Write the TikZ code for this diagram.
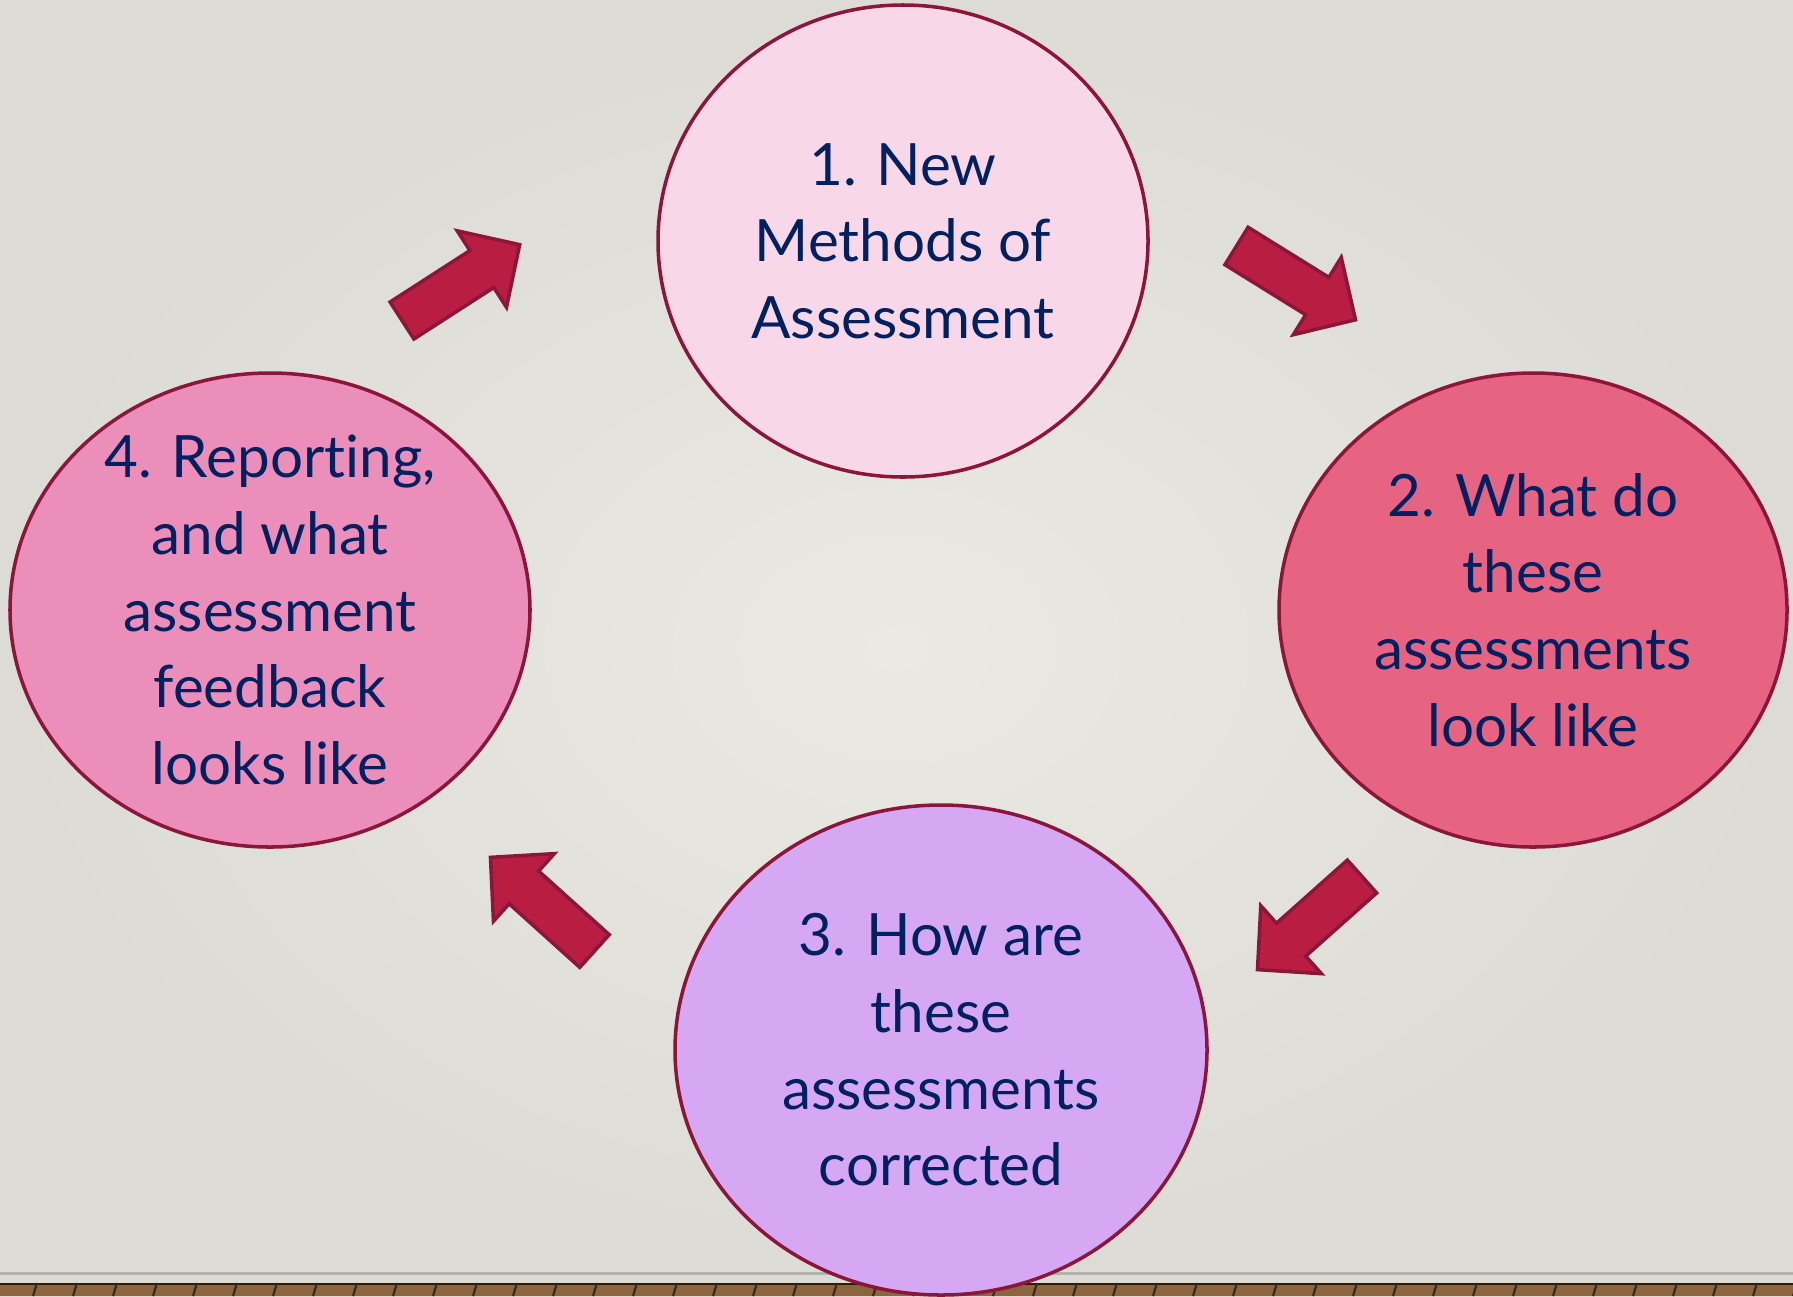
\documentclass[tikz,border=0pt]{standalone}
\usepackage{fontspec}
\setmainfont{Lato}[Ligatures=NoCommon]
\usetikzlibrary{shapes.geometric}

\definecolor{wallin}{RGB}{235,233,228}
\definecolor{wallout}{RGB}{221,219,213}
\definecolor{rimred}{RGB}{140,22,58}
\definecolor{arrowred}{RGB}{185,30,66}
\definecolor{textnavy}{RGB}{0,32,96}
\definecolor{stageone}{RGB}{248,216,232}
\definecolor{stagetwo}{RGB}{230,100,130}
\definecolor{stagethree}{RGB}{214,168,244}
\definecolor{stagefour}{RGB}{235,142,185}
\definecolor{floorwood}{RGB}{140,100,62}

\tikzset{
  stage/.style={ellipse, draw=rimred, line width=1pt, align=center,
    text=textnavy, font=\fontsize{16.6}{21.8}\selectfont, inner sep=-1.2cm},
  cyclearrow/.pic={
    \draw[fill=arrowred, draw=rimred, line width=1pt, line join=miter]
      (0,-0.22) -- (0.95,-0.22) -- (0.95,-0.455) -- (1.40,0)
      -- (0.95,0.455) -- (0.95,0.22) -- (0,0.22) -- cycle;
  }
}

\begin{document}
\begin{tikzpicture}
\useasboundingbox (0,0) rectangle (17.93,-12.96);
% wall and floor
\shade[inner color=wallin, outer color=wallout] (0,0) rectangle (17.93,-12.96);
\fill[black!30] (0,-12.72) rectangle (17.93,-12.75);
\fill[floorwood] (0,-12.83) rectangle (17.93,-12.96);
\fill[black!70!floorwood] (0,-12.83) rectangle (17.93,-12.85);
\foreach \x in {0.33,0.73,...,17.93}
  \draw[black!60!floorwood, line width=0.6pt] (\x,-12.96) -- (\x+0.04,-12.83);

% the four stages
\node[stage, fill=stageone, minimum width=4.90cm, minimum height=4.72cm] (s1) at (9.03,-2.41)
  {1. New\\ Methods of\\ Assessment};
\node[stage, fill=stagetwo, minimum width=5.08cm, minimum height=4.74cm] (s2) at (15.33,-6.10)
  {2. What do\\ these\\ assessments\\ look like};
\node[stage, fill=stagethree, minimum width=5.32cm, minimum height=4.90cm] (s3) at (9.41,-10.50)
  {3. How are\\ these\\ assessments\\ corrected};
\node[stage, fill=stagefour, minimum width=5.20cm, minimum height=4.74cm] (s4) at (2.70,-6.10)
  {4. Reporting,\\ and what\\ assessment\\ feedback\\ looks like};

% arrows between the stages
\pic[rotate=32.8] at (4.02,-3.205) {cyclearrow};
\pic[rotate=-31.8] at (12.365,-2.46) {cyclearrow};
\pic[rotate=-138.3] at (13.62,-8.765) {cyclearrow};
\pic[rotate=138] at (5.945,-9.51) {cyclearrow};
\end{tikzpicture}
\end{document}
